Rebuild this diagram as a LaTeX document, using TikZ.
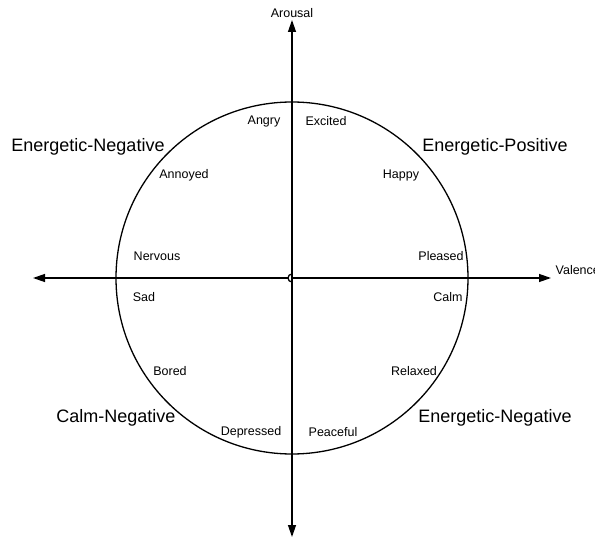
\documentclass[tikz,border=0pt]{standalone}
\usepackage{fontspec}
\setmainfont{Liberation Sans}
\usetikzlibrary{positioning, arrows.meta}

\begin{document}
\begin{tikzpicture}[x=1pt,y=-1pt,line width=1.3pt,>={Triangle[length=12pt,width=8pt]},
    mood/.style={font=\fontsize{12.5}{15}\selectfont, inner sep=0pt},
    region/.style={font=\fontsize{18}{22}\selectfont, inner sep=0pt}]
  \useasboundingbox (0,0) rectangle (595,540);
  \coordinate (o) at (292,278);
  \coordinate (n) at (292,20);
  \coordinate (s) at (292,537);
  \coordinate (w) at (33,278);
  \coordinate (e) at (551,278);
  \coordinate (hop_n) at (292,274);
  \coordinate (hop_w) at (288,278);

  \draw (o) circle[radius=176];
  \draw[->] (o) -- (n);
  \draw[->] (o) -- (s);
  \draw[->] (hop_w) -- (w);
  \draw[->] (o) -- (e);
  \draw (hop_n) arc[start angle=270, end angle=90, radius=4];

  \node[mood] (ax_y) at (292,13) {Arousal};
  \node[mood, anchor=west] (ax_x) at (555,270) {Valence};

  \node[mood] (m_angry)     at (264,121) {Angry};
  \node[mood] (m_excited)   at (326,121) {Excited};
  \node[mood] (m_annoyed)   at (184,175) {Annoyed};
  \node[mood] (m_happy)     at (401,175) {Happy};
  \node[mood] (m_nervous)   at (157,256) {Nervous};
  \node[mood] (m_pleased)   at (441,256) {Pleased};
  \node[mood] (m_sad)       at (144,297) {Sad};
  \node[mood] (m_calm)      at (448,297) {Calm};
  \node[mood] (m_bored)     at (170,371) {Bored};
  \node[mood] (m_relaxed)   at (414,371) {Relaxed};
  \node[mood] (m_depressed) at (251,432) {Depressed};
  \node[mood] (m_peaceful)  at (333,432) {Peaceful};

  \node[region] (r_1) at (88,147)  {Energetic-Negative};
  \node[region] (r_2) at (495,147) {Energetic-Positive};
  \node[region] (r_3) at (116,418) {Calm-Negative};
  \node[region] (r_4) at (495,418) {Energetic-Negative};
\end{tikzpicture}
\end{document}
